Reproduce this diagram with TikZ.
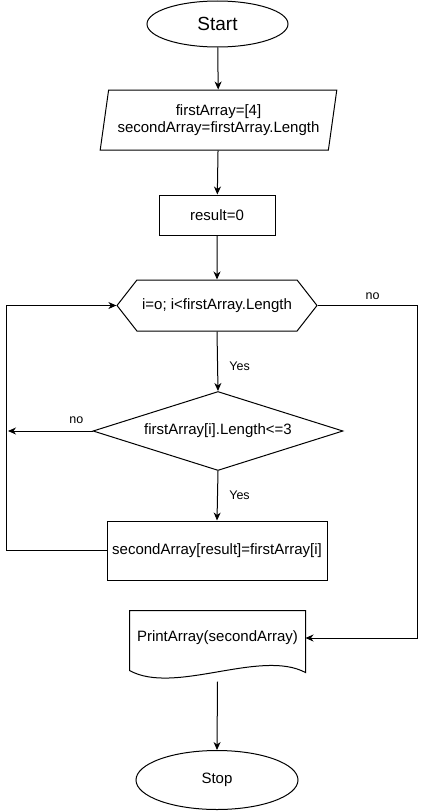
\documentclass[tikz,border=0pt]{standalone}
\usepackage{fontspec}
\setmainfont{Liberation Sans}
\usetikzlibrary{shapes.geometric,shapes.symbols,arrows.meta}

\begin{document}
\begin{tikzpicture}[x=1pt,y=-1pt,line width=1pt,
  >={Stealth[length=8pt,width=7pt,inset=2.5pt]},
  every node/.style={font=\fontsize{15}{17}\selectfont},
  terminal/.style={draw,ellipse,inner sep=0pt},
  iobox/.style={draw,trapezium,trapezium left angle=76,trapezium right angle=104,
    trapezium stretches=true,minimum width=237pt,minimum height=60pt,align=center,inner sep=0pt},
  procbox/.style={draw,rectangle,inner sep=0pt},
  loopbox/.style={draw,signal,signal to=east and west,signal pointer angle=104,
    minimum width=200pt,minimum height=51pt,inner sep=0pt},
  decision/.style={draw,diamond,aspect=3.16,minimum width=250pt,minimum height=79pt,inner sep=0pt},
  docbox/.style={rectangle,minimum width=175pt,minimum height=54pt,inner sep=0pt},
  lbl/.style={font=\fontsize{12.5}{14}\selectfont}]
  \useasboundingbox (0,0) rectangle (426,811);

  % Blocks.
  \node[terminal,minimum width=141pt,minimum height=46pt,font=\fontsize{19}{21}\selectfont] (start) at (217.5,24) {Start};
  \node[iobox] (input) at (218.5,120) {firstArray=[4]\\secondArray=firstArray.Length};
  \node[procbox,minimum width=116pt,minimum height=40pt] (init) at (217,215) {result=0};
  \node[loopbox] (loop) at (217,305.5) {i=o; i<firstArray.Length};
  \node[decision] (cond) at (218,431) {firstArray[i].Length<=3};
  \node[procbox,minimum width=220pt,minimum height=59pt] (copy) at (217,550.5) {secondArray[result]=firstArray[i]};
  \node[docbox] (print) at (217.5,638) {PrintArray(secondArray)};
  \node[terminal,minimum width=162pt,minimum height=59pt] (stop) at (217,780) {Stop};

  % Document outline with wavy bottom.
  \draw (print.north west) -- (print.north east) -- ([yshift=-7pt]print.south east)
    .. controls +(-45,-24) and +(45,25) .. ([yshift=-5pt]print.south west) -- cycle;

  % Connectors.
  \coordinate (noend) at (8,431);
  \draw[->] (start) -- (input);
  \draw[->] (input) -- (init);
  \draw[->] (init) -- (loop);
  \draw[->] (loop.south) -- node[lbl,right=8pt,pos=0.58] {Yes} (cond.north);
  \draw[->] (cond.south) -- node[lbl,right=8pt] {Yes} (copy.north);
  \draw[->] (cond.west) -- node[lbl,above=4pt,pos=0.19] {no} (noend);
  \draw[->] (copy.west) -- ++(-100,0) |- (loop.west);
  \draw[->] (loop.east) -- node[lbl,above=2pt,pos=0.55] {no} ++(100,0) |- (print.east);
  \draw[->] ([yshift=-16pt]print.south) -- (stop.north);

\end{tikzpicture}
\end{document}
